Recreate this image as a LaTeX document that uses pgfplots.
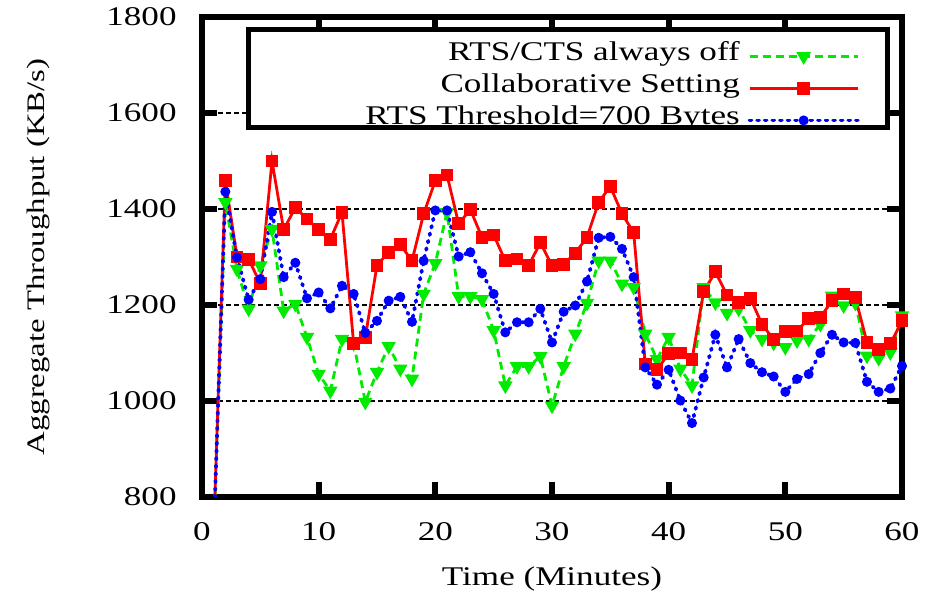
\documentclass[border=0pt]{standalone}
\usepackage{fontspec}
\setmainfont{Liberation Serif}[FakeStretch=1.3]
\usepackage{pgfplots}
\pgfplotsset{compat=1.18}
\definecolor{gpgreen}{RGB}{0,235,0}
\definecolor{gpred}{RGB}{255,0,0}
\definecolor{gpblue}{RGB}{0,0,255}
\newcommand{\fs}{\fontsize{13.5}{16}\selectfont}

\begin{document}
\begin{tikzpicture}
\begin{axis}[
  scale only axis, width=350pt, height=240pt,
  xmin=0, xmax=60, ymin=800, ymax=1800,
  xtick={0,10,...,60}, ytick={800,1000,...,1800},
  tick align=inside, major tick length=7.5pt,
  every tick/.style={black, line width=3pt},
  axis line style={line width=3.2pt},
  ymajorgrids,
  grid style={black, line width=0.7pt, dash pattern=on 2.5pt off 1.5pt},
  /pgf/number format/assume math mode=true,
  /pgf/number format/1000 sep={},
  tick label style={font=\fs},
  yticklabel style={anchor=east, inner sep=0pt, xshift=-12.5pt},
  xticklabel style={anchor=north, inner sep=0pt, yshift=-12.5pt},
  xlabel={Time (Minutes)},
  ylabel={Aggregate Throughput (KB/s)},
  xlabel style={font=\fs, at={(axis description cs:0.5,-0.171)}, anchor=center},
  ylabel style={font=\fontsize{12.6}{15}\selectfont, at={(axis description cs:-0.234,0.5)}, anchor=center},
  legend plot pos=right, legend cell align=right,
  legend image code/.code={\draw[mark repeat=2,mark phase=2,#1] plot coordinates {(0pt,0pt) (27pt,0pt) (54pt,0pt)};},
  legend style={draw=none, fill=none, at={(axis description cs:0.94,0.952)}, anchor=north east,
    inner sep=0pt, row sep=0pt, column sep=4pt, font=\fs,
    nodes={inner sep=0pt, text height=10pt, text depth=6pt}},
]
\fill[white] (axis description cs:0.067,0.770) rectangle (axis description cs:0.979,0.973);
\coordinate (lgA) at (axis description cs:0.067,0.770);
\coordinate (lgB) at (axis description cs:0.979,0.973);

% RTS/CTS always off
\addplot[gpgreen, line width=1.4pt, dash pattern=on 4pt off 2.5pt,
  mark=triangle*, mark size=2.8pt, mark options={solid, rotate=180}]
coordinates {
(1,720) (2,1414) (3,1275) (4,1192) (5,1282) (6,1358) (7,1188) (8,1202) (9,1133) (10,1056)
(11,1021) (12,1129) (13,1120) (14,998) (15,1060) (16,1114) (17,1067) (18,1046) (19,1223) (20,1287)
(21,1393) (22,1218) (23,1218) (24,1212) (25,1147) (26,1032) (27,1072) (28,1072) (29,1093) (30,990)
(31,1072) (32,1140) (33,1204) (34,1292) (35,1292) (36,1244) (37,1237) (38,1140) (39,1087) (40,1133)
(41,1067) (42,1032) (43,1237) (44,1205) (45,1183) (46,1192) (47,1147) (48,1129) (49,1121) (50,1112)
(51,1126) (52,1129) (53,1160) (54,1219) (55,1199) (56,1204) (57,1094) (58,1089) (59,1101) (60,1178)
};
\addlegendentry{RTS/CTS always off}

% collaborative setting
\addplot[gpred, line width=1.4pt, mark=square*, mark size=2.5pt, mark options={solid}]
coordinates {
(1,720) (2,1460) (3,1300) (4,1295) (5,1245) (6,1500) (7,1357) (8,1403) (9,1379) (10,1357)
(11,1337) (12,1393) (13,1119) (14,1133) (15,1283) (16,1310) (17,1326) (18,1292) (19,1390) (20,1459)
(21,1471) (22,1369) (23,1399) (24,1341) (25,1346) (26,1292) (27,1296) (28,1282) (29,1330) (30,1282)
(31,1285) (32,1308) (33,1341) (34,1414) (35,1447) (36,1390) (37,1351) (38,1077) (39,1065) (40,1099)
(41,1100) (42,1086) (43,1228) (44,1269) (45,1221) (46,1206) (47,1214) (48,1160) (49,1128) (50,1144)
(51,1146) (52,1172) (53,1174) (54,1209) (55,1223) (56,1216) (57,1122) (58,1108) (59,1119) (60,1167)
};
\addlegendentry{Collaborative Setting}

% RTS threshold 700
\addplot[gpblue, line width=1.9pt, line cap=round, dash pattern=on 0.8pt off 3pt,
  mark=*, mark size=1.5pt, mark options={solid}]
coordinates {
(1,720) (2,1436) (3,1299) (4,1211) (5,1254) (6,1394) (7,1258) (8,1288) (9,1214) (10,1226)
(11,1193) (12,1240) (13,1223) (14,1142) (15,1167) (16,1209) (17,1217) (18,1165) (19,1292) (20,1397)
(21,1397) (22,1301) (23,1310) (24,1266) (25,1223) (26,1143) (27,1164) (28,1164) (29,1192) (30,1122)
(31,1186) (32,1199) (33,1249) (34,1340) (35,1342) (36,1317) (37,1258) (38,1070) (39,1034) (40,1065)
(41,1001) (42,954) (43,1049) (44,1138) (45,1070) (46,1129) (47,1079) (48,1060) (49,1051) (50,1019)
(51,1046) (52,1056) (53,1100) (54,1138) (55,1122) (56,1121) (57,1040) (58,1019) (59,1026) (60,1073)
};
\addlegendentry{RTS Threshold=700 Bytes}
\end{axis}
\draw[line width=2.5pt] (lgA) rectangle (lgB);
\pgfresetboundingbox
\path[use as bounding box] ([xshift=-101pt,yshift=-51.5pt]current axis.south west) rectangle ++(469.5pt,300pt);
\end{tikzpicture}
\end{document}
